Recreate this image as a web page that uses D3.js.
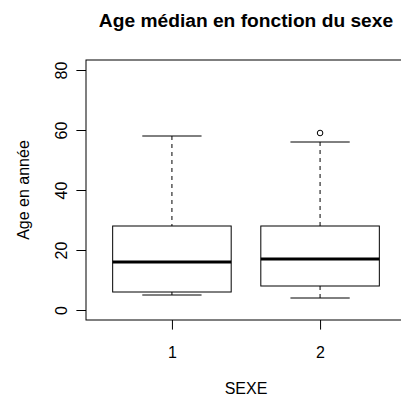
<!DOCTYPE html>
<html>
<head>
<meta charset="utf-8">
<script src="https://cdn.jsdelivr.net/npm/d3@7"></script>
<style>
  html, body { margin: 0; padding: 0; background: #fff; }
  svg { display: block; font-family: "Liberation Sans", Arial, Helvetica, sans-serif; }
</style>
</head>
<body>
<svg id="chart" width="401" height="398"></svg>
<script>
// Boxplot summary per sex group
const categories = ["1", "2"];
const lowWhisker = [5, 4];
const q1 = [6, 8];
const median = [16, 17];
const q3 = [28, 28];
const highWhisker = [58, 56];
const outliers = [[], [59]];
const yTicks = [0, 20, 40, 60, 80];

const svg = d3.select("#chart");

// Plot region, with R-style 4% padding on the data ranges
const plot = { left: 86, right: 406, top: 60, bottom: 320 };
const x = d3.scaleLinear().domain([0.42, 2.58]).range([plot.left, plot.right]);
const y = d3.scaleLinear().domain([-10 / 3, 250 / 3]).range([plot.bottom, plot.top]);

const boxHalf = 0.4;    // half box width in x units
const capHalf = 0.2;    // half whisker-cap width
const lineH = 19.2;     // one text line in px

const g = svg.append("g");

categories.forEach((c, i) => {
  const cx = x(i + 1);
  // dashed whiskers
  g.append("line")
    .attr("x1", cx).attr("x2", cx)
    .attr("y1", y(lowWhisker[i])).attr("y2", y(q1[i]))
    .attr("stroke", "#000").attr("stroke-dasharray", "4,4");
  g.append("line")
    .attr("x1", cx).attr("x2", cx)
    .attr("y1", y(highWhisker[i])).attr("y2", y(q3[i]))
    .attr("stroke", "#000").attr("stroke-dasharray", "4,4");
  // caps
  [lowWhisker[i], highWhisker[i]].forEach(v => {
    g.append("line")
      .attr("x1", x(i + 1 - capHalf)).attr("x2", x(i + 1 + capHalf))
      .attr("y1", y(v)).attr("y2", y(v))
      .attr("stroke", "#000");
  });
  // box
  g.append("rect")
    .attr("x", x(i + 1 - boxHalf))
    .attr("y", y(q3[i]))
    .attr("width", x(i + 1 + boxHalf) - x(i + 1 - boxHalf))
    .attr("height", y(q1[i]) - y(q3[i]))
    .attr("fill", "#fff").attr("stroke", "#000");
  // median
  g.append("line")
    .attr("x1", x(i + 1 - boxHalf)).attr("x2", x(i + 1 + boxHalf))
    .attr("y1", y(median[i])).attr("y2", y(median[i]))
    .attr("stroke", "#000").attr("stroke-width", 3);
  // outliers
  outliers[i].forEach(v => {
    g.append("circle")
      .attr("cx", cx).attr("cy", y(v)).attr("r", 2.8)
      .attr("fill", "none").attr("stroke", "#000");
  });
});

// Frame around plot region
svg.append("rect")
  .attr("x", plot.left).attr("y", plot.top)
  .attr("width", plot.right - plot.left).attr("height", plot.bottom - plot.top)
  .attr("fill", "none").attr("stroke", "#000");

// Y axis
const yAxis = svg.append("g")
  .attr("transform", `translate(${plot.left},0)`)
  .call(d3.axisLeft(y).tickValues(yTicks).tickSize(lineH / 2).tickSizeOuter(0).tickPadding(0));
yAxis.select(".domain").remove();
yAxis.selectAll(".tick line").attr("stroke", "#000");
yAxis.selectAll(".tick text")
  .attr("x", null).attr("dy", null)
  .attr("transform", `translate(${-19},0) rotate(-90)`)
  .attr("text-anchor", "middle")
  .attr("fill", "#000")
  .style("font-size", "16px")
  .style("font-family", "\"Liberation Sans\", Arial, sans-serif");

// X axis
const xAxis = svg.append("g")
  .attr("transform", `translate(0,${plot.bottom})`)
  .call(d3.axisBottom(x).tickValues([1, 2]).tickFormat((d, i) => categories[i])
        .tickSize(lineH / 2).tickSizeOuter(0).tickPadding(0));
xAxis.select(".domain").remove();
xAxis.selectAll(".tick line").attr("stroke", "#000");
xAxis.selectAll(".tick text")
  .attr("y", 38).attr("dy", null)
  .attr("fill", "#000")
  .style("font-size", "16px")
  .style("font-family", "\"Liberation Sans\", Arial, sans-serif");

// Titles
const midX = (plot.left + plot.right) / 2;
svg.append("text")
  .attr("x", midX).attr("y", 27)
  .attr("text-anchor", "middle")
  .style("font-size", "19.2px").style("font-weight", "bold")
  .text("Age médian en fonction du sexe");

svg.append("text")
  .attr("x", midX).attr("y", 394)
  .attr("text-anchor", "middle")
  .style("font-size", "16px")
  .text("SEXE");

svg.append("text")
  .attr("transform", `translate(29,${(plot.top + plot.bottom) / 2}) rotate(-90)`)
  .attr("text-anchor", "middle")
  .style("font-size", "16px")
  .text("Age en année");
</script>
</body>
</html>
